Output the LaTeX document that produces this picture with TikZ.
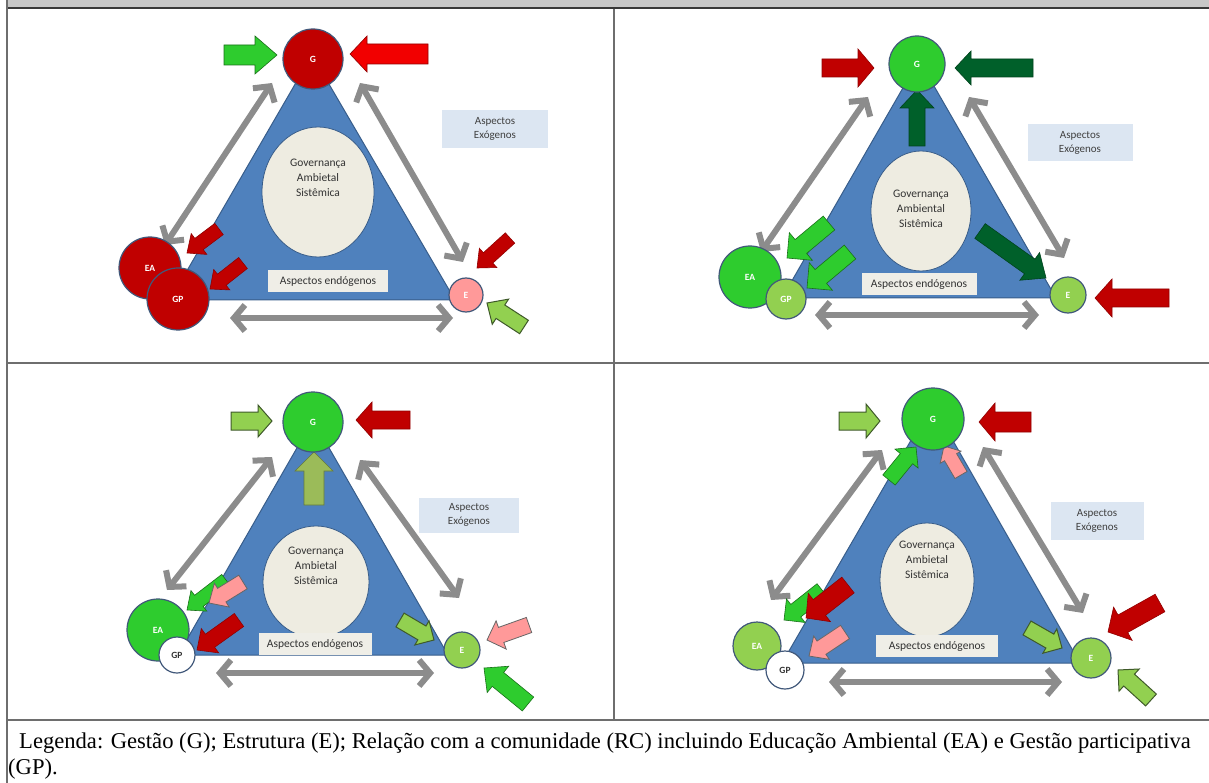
\documentclass[tikz,border=0pt]{standalone}
\usepackage{fontspec}
\setmainfont{Liberation Serif}
\newfontfamily\carlito{Carlito}
\usetikzlibrary{arrows.meta,calc,shapes.geometric}

\definecolor{triblue}{HTML}{4F81BD}
\definecolor{triedge}{HTML}{385D8A}
\definecolor{govfill}{HTML}{EEECE1}
\definecolor{endobox}{HTML}{EFEEE7}
\definecolor{exobox}{HTML}{DCE6F2}
\definecolor{darkred}{HTML}{C00000}
\definecolor{brightred}{HTML}{F20000}
\definecolor{brightgreen}{HTML}{2ECC2E}
\definecolor{lightgreen}{HTML}{92D050}
\definecolor{lgedge}{HTML}{3F5A2A}
\definecolor{darkgreen}{HTML}{00602A}
\definecolor{pinkfill}{HTML}{FF9999}
\definecolor{olivegreen}{HTML}{9BBB59}
\definecolor{arrowgray}{HTML}{8C8C8C}
\definecolor{circedge}{HTML}{41587A}
\definecolor{frameline}{HTML}{6E6E6E}

% block arrow: style, tail, tip, half shaft, half head, head length
\newcommand{\blockarr}[6]{%
  \coordinate (bneck) at ($(#3)!#6pt!(#2)$);
  \draw[#1] ($(#2)!#4pt!90:(#3)$) -- ($(bneck)!#4pt!90:(#3)$) -- ($(bneck)!#5pt!90:(#3)$) -- (#3)
    -- ($(bneck)!#5pt!-90:(#3)$) -- ($(bneck)!#4pt!-90:(#3)$) -- ($(#2)!#4pt!-90:(#3)$) -- cycle;}

\tikzset{
  tri/.style={fill=triblue, draw=triedge, line width=1pt},
  govell/.style={ellipse, fill=govfill, draw=triedge, line width=0.8pt, inner sep=0},
  govtext/.style={font=\carlito\fontsize{11.5}{15}\selectfont, text=black!80, align=center},
  endo/.style={fill=endobox, font=\carlito\fontsize{11.5}{12}\selectfont, text=black!80, inner sep=0, minimum height=22},
  exo/.style={fill=exobox, font=\carlito\fontsize{11}{14}\selectfont, text=black!75, align=center, inner sep=0},
  vert/.style={circle, draw=circedge, line width=1.2pt, inner sep=0, font=\carlito\fontsize{9.5}{10}\selectfont\bfseries, text=white},
  grayarr/.style={draw=arrowgray, line width=6pt, {Straight Barb[length=11pt,width=26pt]}-{Straight Barb[length=11pt,width=26pt]}},
  redarr/.style={fill=darkred, draw=darkred!75!black, line width=0.6pt},
  brightredarr/.style={fill=brightred, draw=darkred!75!black, line width=0.6pt},
  greenarr/.style={fill=brightgreen, draw=brightgreen!55!black, line width=0.6pt},
  lgarr/.style={fill=lightgreen, draw=lgedge, line width=1pt},
  dgarr/.style={fill=darkgreen, draw=darkgreen!70!black, line width=0.6pt},
  pinkarr/.style={fill=pinkfill, draw=black!60, line width=0.8pt},
  olivearr/.style={fill=olivegreen, draw=olivegreen!65!black, line width=0.6pt},
}

\begin{document}
\begin{tikzpicture}[x=1pt, y=-1pt]
\useasboundingbox (0,0) rectangle (1209,783);
% table frame
\fill[black!22] (7,0) rectangle (1209,7);
\draw[black!78, line width=2.5pt] (7,8) -- (1209,8);
\draw[frameline, line width=2pt] (6.5,0) -- (6.5,783);
\draw[frameline, line width=2pt] (613.5,9) -- (613.5,720);
\draw[frameline, line width=2pt] (6,363) -- (1209,363);
\draw[frameline, line width=2pt] (6,720) -- (1209,720);

% panel 1
\draw[tri] (312,55) -- (170,300) -- (455,300) -- cycle;
\node[govell, minimum width=112, minimum height=130] (ell1) at (318,192) {};
\node[govtext] (gov1) at (318,178) {Governança\\Ambietal\\Sistêmica};
\node[endo, minimum width=120] (endo1) at (328,281) {Aspectos endógenos};
\node[exo, minimum width=106, minimum height=38] (exo1) at (495,129) {Aspectos\\Exógenos};
\coordinate (l1a) at (272,83); \coordinate (l1b) at (165,245);
\coordinate (r1a) at (360,83); \coordinate (r1b) at (463,262);
\coordinate (b1a) at (230,318); \coordinate (b1b) at (453,318);
\draw[grayarr] (l1a) -- (l1b);
\draw[grayarr] (r1a) -- (r1b);
\draw[grayarr] (b1a) -- (b1b);
\blockarr{greenarr}{224,55}{277,55}{10}{19}{22}
\blockarr{brightredarr}{428,54}{350,54}{10}{18}{17}
\blockarr{redarr}{219,229}{187,253}{7}{13}{15}
\blockarr{redarr}{243,263}{210,289}{7}{13}{15}
\blockarr{redarr}{510,238}{477,268}{7}{13}{15}
\blockarr{lgarr}{524,327}{487,303}{8}{15}{16}
\node[vert, fill=darkred, minimum size=60] (g1) at (313,59) {G};
\node[vert, fill=darkred, minimum size=62] (ea1) at (150,268) {EA};
\node[vert, fill=darkred, minimum size=62] (gp1) at (178,299) {GP};
\node[vert, fill=pinkfill, minimum size=34] (e1) at (466,295) {E};

% panel 2
\draw[tri] (919,60) -- (782,298) -- (1056,298) -- cycle;
\node[govell, minimum width=100, minimum height=120] (ell2) at (921,211) {};
\node[govtext] (gov2) at (921,209) {Governança\\Ambiental\\Sistêmica};
\node[endo, minimum width=115] (endo2) at (919,284) {Aspectos endógenos};
\node[exo, minimum width=105, minimum height=37] (exo2) at (1080,143) {Aspectos\\Exógenos};
\coordinate (l2a) at (868,97); \coordinate (l2b) at (761,252);
\coordinate (r2a) at (969,97); \coordinate (r2b) at (1064,258);
\coordinate (b2a) at (815,315); \coordinate (b2b) at (1039,315);
\draw[grayarr] (l2a) -- (l2b);
\draw[grayarr] (r2a) -- (r2b);
\draw[grayarr] (b2a) -- (b2b);
\blockarr{redarr}{822,68}{874,68}{9}{19}{16}
\blockarr{dgarr}{1033,68}{955,68}{9}{17}{16}
\blockarr{dgarr}{917,146}{917,90}{8}{17}{18}
\blockarr{greenarr}{829,223}{787,258}{9}{18}{18}
\blockarr{greenarr}{850,252}{807,288}{9}{18}{18}
\blockarr{dgarr}{980,231}{1046,278}{9}{17}{20}
\blockarr{redarr}{1169,298}{1095,298}{9}{19}{17}
\node[vert, fill=brightgreen, minimum size=56] (g2) at (917,64) {G};
\node[vert, fill=brightgreen, minimum size=62] (ea2) at (750,277) {EA};
\node[vert, fill=lightgreen, minimum size=40] (gp2) at (786,299) {GP};
\node[vert, fill=lightgreen, minimum size=36] (e2) at (1068,295) {E};

% panel 3
\draw[tri] (313,420) -- (178,655) -- (448,655) -- cycle;
\node[govell, minimum width=106, minimum height=112] (ell3) at (316,582) {};
\node[govtext] (gov3) at (316,566) {Governança\\Ambietal\\Sistêmica};
\node[endo, minimum width=113] (endo3) at (315,644) {Aspectos endógenos};
\node[exo, minimum width=100, minimum height=35] (exo3) at (469,515) {Aspectos\\Exógenos};
\coordinate (l3a) at (272,457); \coordinate (l3b) at (167,590);
\coordinate (r3a) at (360,460); \coordinate (r3b) at (459,598);
\coordinate (b3a) at (216,673); \coordinate (b3b) at (434,673);
\draw[grayarr] (l3a) -- (l3b);
\draw[grayarr] (r3a) -- (r3b);
\draw[grayarr] (b3a) -- (b3b);
\blockarr{lgarr}{231,421}{272,421}{9}{16}{14}
\blockarr{redarr}{410,420}{356,420}{9}{18}{16}
\blockarr{olivearr}{314,505}{314,452}{10}{19}{19}
\blockarr{greenarr}{226,580}{187,610}{7}{13}{15}
\blockarr{pinkarr}{243,582}{209,603}{8}{14}{15}
\blockarr{redarr}{239,620}{197,650}{8}{15}{16}
\blockarr{lgarr}{400,620}{434,640}{8}{14}{14}
\blockarr{pinkarr}{529,625}{487,640}{8}{15}{15}
\blockarr{greenarr}{528,704}{484,668}{9}{17}{18}
\node[vert, fill=brightgreen, minimum size=60] (g3) at (313,422) {G};
\node[vert, fill=brightgreen, minimum size=62] (ea3) at (158,630) {EA};
\node[vert, fill=white, text=black!80, minimum size=36] (gp3) at (177,655) {GP};
\node[vert, fill=lightgreen, minimum size=36] (e3) at (462,650) {E};

% panel 4
\draw[tri] (932,404) -- (782,663) -- (1080,663) -- cycle;
\node[govell, minimum width=94, minimum height=114] (ell4) at (927,580) {};
\node[govtext] (gov4) at (927,560) {Governança\\Ambietal\\Sistêmica};
\node[endo, minimum width=122] (endo4) at (937,646) {Aspectos endógenos};
\node[exo, minimum width=93, minimum height=38] (exo4) at (1097,521) {Aspectos\\Exógenos};
\coordinate (l4a) at (882,450); \coordinate (l4b) at (771,600);
\coordinate (r4a) at (983,447); \coordinate (r4b) at (1083,613);
\coordinate (b4a) at (829,682); \coordinate (b4b) at (1062,682);
\draw[grayarr] (l4a) -- (l4b);
\draw[grayarr] (r4a) -- (r4b);
\draw[grayarr] (b4a) -- (b4b);
\blockarr{lgarr}{839,421}{880,421}{9}{17}{14}
\blockarr{redarr}{1031,422}{979,422}{10}{19}{16}
\blockarr{greenarr}{889,480}{916,447}{8}{15}{15}
\blockarr{pinkarr}{961,475}{944,446}{7}{12}{13}
\blockarr{greenarr}{822,590}{784,620}{8}{15}{15}
\blockarr{redarr}{848,585}{806,618}{10}{18}{17}
\blockarr{pinkarr}{845,632}{809,656}{8}{14}{15}
\blockarr{lgarr}{1027,628}{1062,648}{8}{14}{14}
\blockarr{redarr}{1160,603}{1108,632}{10}{19}{17}
\blockarr{lgarr}{1151,700}{1118,670}{8}{15}{15}
\node[vert, fill=brightgreen, minimum size=62] (g4) at (933,419) {G};
\node[vert, fill=lightgreen, minimum size=48] (ea4) at (757,646) {EA};
\node[vert, fill=white, text=black!80, minimum size=38] (gp4) at (785,670) {GP};
\node[vert, fill=lightgreen, minimum size=40] (e4) at (1091,658) {E};

% legend
\node[anchor=base west, font=\fontsize{22.6}{26}\selectfont, inner sep=0] (leg1) at (19,748) {Legenda: Gestão (G); Estrutura (E); Relação com a comunidade (RC) incluindo Educação Ambiental (EA) e Gestão participativa};
\node[anchor=base west, font=\fontsize{22.6}{26}\selectfont, inner sep=0] (leg2) at (8,774) {(GP).};
\end{tikzpicture}
\end{document}
